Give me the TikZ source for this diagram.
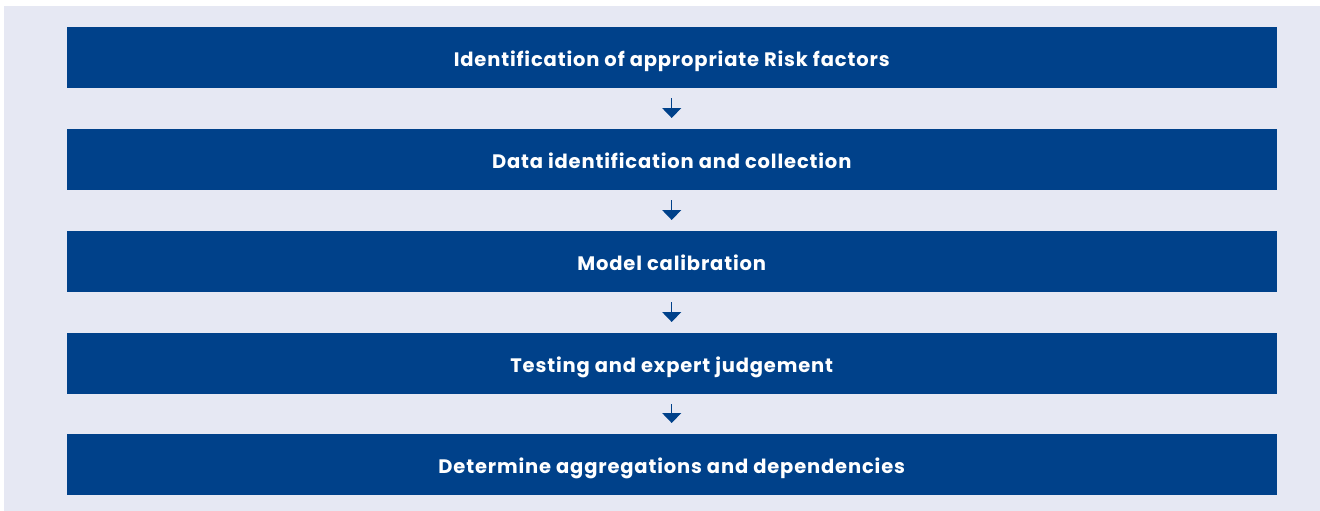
\documentclass[tikz,border=0pt]{standalone}
\usepackage{fontspec}
\setmainfont{Poppins}[LetterSpace=4.3]
\usetikzlibrary{arrows.meta}
\definecolor{boxblue}{HTML}{00418A}
\definecolor{bggray}{HTML}{E6E8F3}
\tikzset{
  stepbox/.style={fill=boxblue, draw=none, minimum width=1210pt, minimum height=61pt, inner sep=0pt,
    text=white, font=\fontsize{19.5}{22}\selectfont\bfseries, text height=17pt, text depth=0pt, anchor=north west},
  flowarrow/.style={draw=boxblue, line width=1.2pt, -{Triangle[width=19pt,length=10pt]}, shorten <=10pt, shorten >=11pt}
}
\begin{document}
\begin{tikzpicture}[x=1pt,y=-1pt]
\useasboundingbox (0,0) rectangle (1320,511);
\fill[bggray] (4,6) rectangle (1320,511);
\node[stepbox] (s1) at (66.5,27) {Identification of appropriate Risk factors};
\node[stepbox] (s2) at (66.5,129) {Data identification and collection};
\node[stepbox] (s3) at (66.5,231) {Model calibration};
\node[stepbox] (s4) at (66.5,333) {Testing and expert judgement};
\node[stepbox] (s5) at (66.5,434) {Determine aggregations and dependencies};
\draw[flowarrow] (s1.south) -- (s2.north);
\draw[flowarrow] (s2.south) -- (s3.north);
\draw[flowarrow] (s3.south) -- (s4.north);
\draw[flowarrow] (s4.south) -- (s5.north);
\end{tikzpicture}
\end{document}
